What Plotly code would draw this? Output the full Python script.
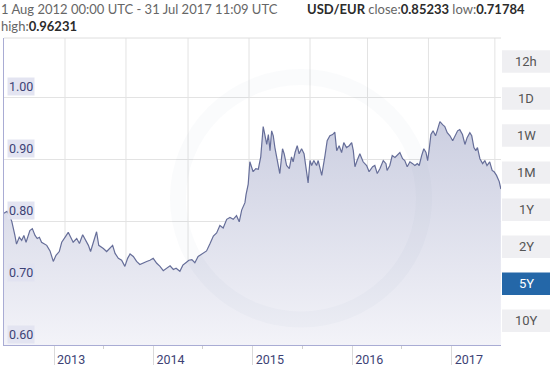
import plotly.graph_objects as go

# ---------------- data ----------------
dates = [
    "2012-08-01", "2012-08-12", "2012-08-23", "2012-08-30", "2012-09-10", "2012-09-16", "2012-09-26",
    "2012-10-05", "2012-10-13", "2012-10-21", "2012-11-04", "2012-11-13", "2012-11-23", "2012-12-01",
    "2012-12-09", "2012-12-17", "2013-01-05", "2013-01-17", "2013-01-29", "2013-02-08", "2013-02-20",
    "2013-03-01", "2013-03-13", "2013-03-25", "2013-04-03", "2013-04-12", "2013-04-25", "2013-05-05",
    "2013-05-17", "2013-05-29", "2013-06-07", "2013-06-15", "2013-06-25", "2013-07-07", "2013-07-15",
    "2013-08-01", "2013-08-13", "2013-08-25", "2013-09-04", "2013-09-13", "2013-09-25", "2013-10-07",
    "2013-10-19", "2013-10-29", "2013-11-07", "2013-11-19", "2013-12-01", "2013-12-13", "2013-12-26",
    "2014-01-07", "2014-01-19", "2014-01-31", "2014-02-13", "2014-02-25", "2014-03-09", "2014-03-21",
    "2014-04-03", "2014-04-15", "2014-04-25", "2014-05-09", "2014-05-20", "2014-05-31", "2014-06-11",
    "2014-06-22", "2014-07-03", "2014-07-15", "2014-08-02", "2014-08-15", "2014-08-27", "2014-09-09",
    "2014-09-21", "2014-10-03", "2014-10-15", "2014-10-28", "2014-11-09", "2014-11-21", "2014-12-03",
    "2014-12-13", "2014-12-22", "2015-01-03", "2015-01-07", "2015-01-15", "2015-01-21", "2015-01-28",
    "2015-02-02", "2015-02-12", "2015-02-21", "2015-03-02", "2015-03-11", "2015-03-17", "2015-03-24",
    "2015-03-30", "2015-04-05", "2015-04-11", "2015-04-17", "2015-04-23", "2015-05-02", "2015-05-11",
    "2015-05-21", "2015-05-27", "2015-06-05", "2015-06-15", "2015-06-23", "2015-06-29", "2015-07-06",
    "2015-07-14", "2015-07-21", "2015-07-30", "2015-08-08", "2015-08-15", "2015-08-23", "2015-08-30",
    "2015-09-05", "2015-09-13", "2015-09-23", "2015-09-29", "2015-10-12", "2015-10-24", "2015-11-01",
    "2015-11-11", "2015-11-21", "2015-11-29", "2015-12-06", "2015-12-15", "2015-12-24", "2016-01-01",
    "2016-01-11", "2016-01-21", "2016-01-30", "2016-02-05", "2016-02-11", "2016-02-19", "2016-02-29",
    "2016-03-12", "2016-03-25", "2016-04-03", "2016-04-16", "2016-04-24", "2016-05-03", "2016-05-13",
    "2016-05-25", "2016-06-04", "2016-06-08", "2016-06-18", "2016-06-27", "2016-07-07", "2016-07-15",
    "2016-07-25", "2016-08-04", "2016-08-12", "2016-08-21", "2016-08-31", "2016-09-10", "2016-09-18",
    "2016-09-27", "2016-10-04", "2016-10-13", "2016-10-21", "2016-10-29", "2016-11-04", "2016-11-10",
    "2016-11-16", "2016-11-24", "2016-12-03", "2016-12-09", "2016-12-19", "2016-12-29", "2017-01-06",
    "2017-01-15", "2017-01-25", "2017-02-04", "2017-02-12", "2017-02-22", "2017-03-02", "2017-03-12",
    "2017-03-21", "2017-03-29", "2017-04-08", "2017-04-15", "2017-04-23", "2017-04-30", "2017-05-06",
    "2017-05-15", "2017-05-25", "2017-06-02", "2017-06-10", "2017-06-20", "2017-06-29", "2017-07-06",
    "2017-07-15", "2017-07-25", "2017-07-31",
]
rates = [
    0.813, 0.816, 0.808, 0.799, 0.777, 0.763, 0.774,
    0.769, 0.777, 0.766, 0.785, 0.788, 0.777, 0.772,
    0.774, 0.766, 0.761, 0.752, 0.735, 0.745, 0.751,
    0.766, 0.774, 0.782, 0.774, 0.766, 0.772, 0.764,
    0.778, 0.769, 0.761, 0.751, 0.766, 0.783, 0.761,
    0.756, 0.751, 0.756, 0.761, 0.748, 0.740, 0.737,
    0.727, 0.740, 0.747, 0.743, 0.735, 0.730, 0.733,
    0.735, 0.737, 0.740, 0.732, 0.727, 0.720, 0.724,
    0.728, 0.722, 0.724, 0.719, 0.729, 0.733, 0.737,
    0.738, 0.733, 0.743, 0.748, 0.752, 0.763, 0.776,
    0.781, 0.793, 0.789, 0.803, 0.806, 0.803, 0.809,
    0.799, 0.818, 0.830, 0.843, 0.860, 0.896, 0.888,
    0.880, 0.885, 0.884, 0.904, 0.953, 0.940, 0.924,
    0.940, 0.914, 0.946, 0.938, 0.919, 0.896, 0.877,
    0.917, 0.909, 0.890, 0.885, 0.904, 0.896, 0.911,
    0.922, 0.909, 0.917, 0.909, 0.890, 0.862, 0.898,
    0.890, 0.898, 0.890, 0.898, 0.874, 0.906, 0.930,
    0.938, 0.940, 0.944, 0.914, 0.922, 0.911, 0.927,
    0.919, 0.922, 0.927, 0.914, 0.888, 0.898, 0.909,
    0.896, 0.890, 0.880, 0.888, 0.890, 0.877, 0.885,
    0.898, 0.893, 0.882, 0.890, 0.906, 0.903, 0.906,
    0.911, 0.901, 0.898, 0.888, 0.896, 0.893, 0.890,
    0.893, 0.890, 0.906, 0.917, 0.911, 0.898, 0.917,
    0.940, 0.946, 0.938, 0.946, 0.961, 0.956, 0.953,
    0.943, 0.938, 0.930, 0.938, 0.946, 0.948, 0.940,
    0.924, 0.935, 0.943, 0.938, 0.919, 0.914, 0.919,
    0.901, 0.893, 0.898, 0.890, 0.896, 0.882, 0.880,
    0.874, 0.864, 0.852,
]

year_tick_dates = ["2013-02-01", "2014-02-01", "2015-02-01", "2016-02-01", "2017-02-01"]
year_labels = ["2013", "2014", "2015", "2016", "2017"]
half_year_dates = ["2013-08-01", "2014-08-01", "2015-08-01", "2016-08-01"]
grid_dates = ["2013-03-13", "2013-10-23", "2014-06-08", "2015-01-18",
              "2015-08-30", "2016-03-28", "2016-11-07", "2017-07-09"]
y_ticks = [0.60, 0.70, 0.80, 0.90, 1.00]
y_labels = ["0.60", "0.70", "0.80", "0.90", "1.00"]
buttons = ["12h", "1D", "1W", "1M", "1Y", "2Y", "5Y", "10Y"]
active_button = "5Y"

B = "<b style='color:#2b2b2b'>{}</b>"
header_period = "1 Aug 2012 00:00 UTC - 31 Jul 2017 11:09 UTC"
header_high = "high:" + B.format("0.96231")
header_pair = (B.format("USD/EUR") + " close:" + B.format("0.85233")
               + " low:" + B.format("0.71784"))

# ---------------- layout geometry (pixels) ----------------
W, H = 554, 371
ML, MR, MT, MB = 4, 53, 38, 19
PW, PH = W - ML - MR, H - MT - MB


def px(x):
    return (x - ML) / PW


def py(y):
    return (H - MB - y) / PH


FONT = "Roboto, 'Open Sans', Arial, sans-serif"
HFONT = "Lato, Roboto, Arial, sans-serif"
NAVY = "#3d4275"

fig = go.Figure()
fig.add_trace(go.Scatter(
    x=dates, y=rates, mode="lines",
    line=dict(color="#666e99", width=1.2),
    fill="tozeroy",
    fillgradient=dict(type="vertical",
                      colorscale=[[0, "rgb(244,244,249)"], [1, "rgb(204,207,225)"]],
                      start=0.60, stop=0.96),
    hoverinfo="skip",
))

shapes = []
for d in grid_dates:
    shapes.append(dict(type="line", xref="x", yref="paper", x0=d, x1=d, y0=0, y1=1,
                       line=dict(color="#e3e3e3", width=1), layer="below"))
# top border
shapes.append(dict(type="line", xref="paper", yref="paper", x0=0, x1=1, y0=1, y1=1,
                   line=dict(color="#dedede", width=1), layer="below"))
# faint watermark ring
shapes.append(dict(type="circle", xref="paper", yref="paper",
                   x0=px(178), x1=px(424), y0=py(326), y1=py(78),
                   line=dict(color="rgba(110,115,160,0.03)", width=16), layer="above"))

annotations = []
for v, t in zip(y_ticks, y_labels):
    annotations.append(dict(x=0, xref="paper", xanchor="left", xshift=3,
                            y=v, yref="y", yanchor="bottom", yshift=1,
                            text=t, showarrow=False, bgcolor="rgba(226,227,240,0.95)",
                            borderpad=1, font=dict(family=FONT, size=12.5, color=NAVY)))

# header: period + high on two lines, pair summary to the right of line one
annotations.append(dict(x=px(0), xref="paper", xanchor="left", xshift=-1,
                        y=py(0), yref="paper", yanchor="top", yshift=1.5,
                        align="left", text=header_period + "<br>" + header_high,
                        showarrow=False,
                        font=dict(family=HFONT, size=13, color="#666")))
annotations.append(dict(x=px(305), xref="paper", xanchor="left",
                        y=py(8), yref="paper", yanchor="middle",
                        text=header_pair, showarrow=False,
                        font=dict(family=HFONT, size=13, color="#666")))

# range buttons
btn_top0, btn_pitch, btn_h = 50.5, 37.9, 23
for i, b in enumerate(buttons):
    top = btn_top0 + i * btn_pitch
    is_active = b == active_button
    shapes.append(dict(type="rect", xref="paper", yref="paper",
                       x0=px(502), x1=px(550), y0=py(top + btn_h), y1=py(top),
                       fillcolor="#2467a8" if is_active else "#efeff2",
                       line=dict(width=0), layer="above"))
    annotations.append(dict(x=px(526), xref="paper", xanchor="center",
                            y=py(top + btn_h / 2), yref="paper", yanchor="middle",
                            text=b, showarrow=False,
                            font=dict(family=FONT, size=13,
                                      color="#ffffff" if is_active else "#555")))

fig.update_layout(
    width=W, height=H,
    margin=dict(l=ML, r=MR, t=MT, b=MB, pad=0),
    paper_bgcolor="white", plot_bgcolor="white",
    showlegend=False,
    shapes=shapes, annotations=annotations,
    xaxis=dict(
        type="date", range=["2012-08-01", "2017-07-31 11:09"],
        showgrid=False, zeroline=False,
        tickmode="array", tickvals=year_tick_dates, ticktext=year_labels,
        ticks="outside", ticklen=19, tickcolor="#dadada", tickwidth=1,
        showline=True, linecolor="#a9acd4", linewidth=1,
        tickfont=dict(family=FONT, size=12.5, color=NAVY),
        ticklabelshift=17, ticklabelstandoff=-16,
        minor=dict(tickmode="array", tickvals=half_year_dates, ticks="outside",
                   ticklen=3, tickcolor="#cfcfcf", showgrid=False),
        fixedrange=True,
    ),
    yaxis=dict(
        range=[0.60, 1.096], tickmode="array", tickvals=y_ticks,
        showticklabels=False, ticks="",
        showgrid=True, gridcolor="#e3e3e3", gridwidth=1, zeroline=False,
        showline=True, linecolor="#a9acd4", linewidth=1,
        fixedrange=True,
    ),
)

fig.write_html("out.html")
